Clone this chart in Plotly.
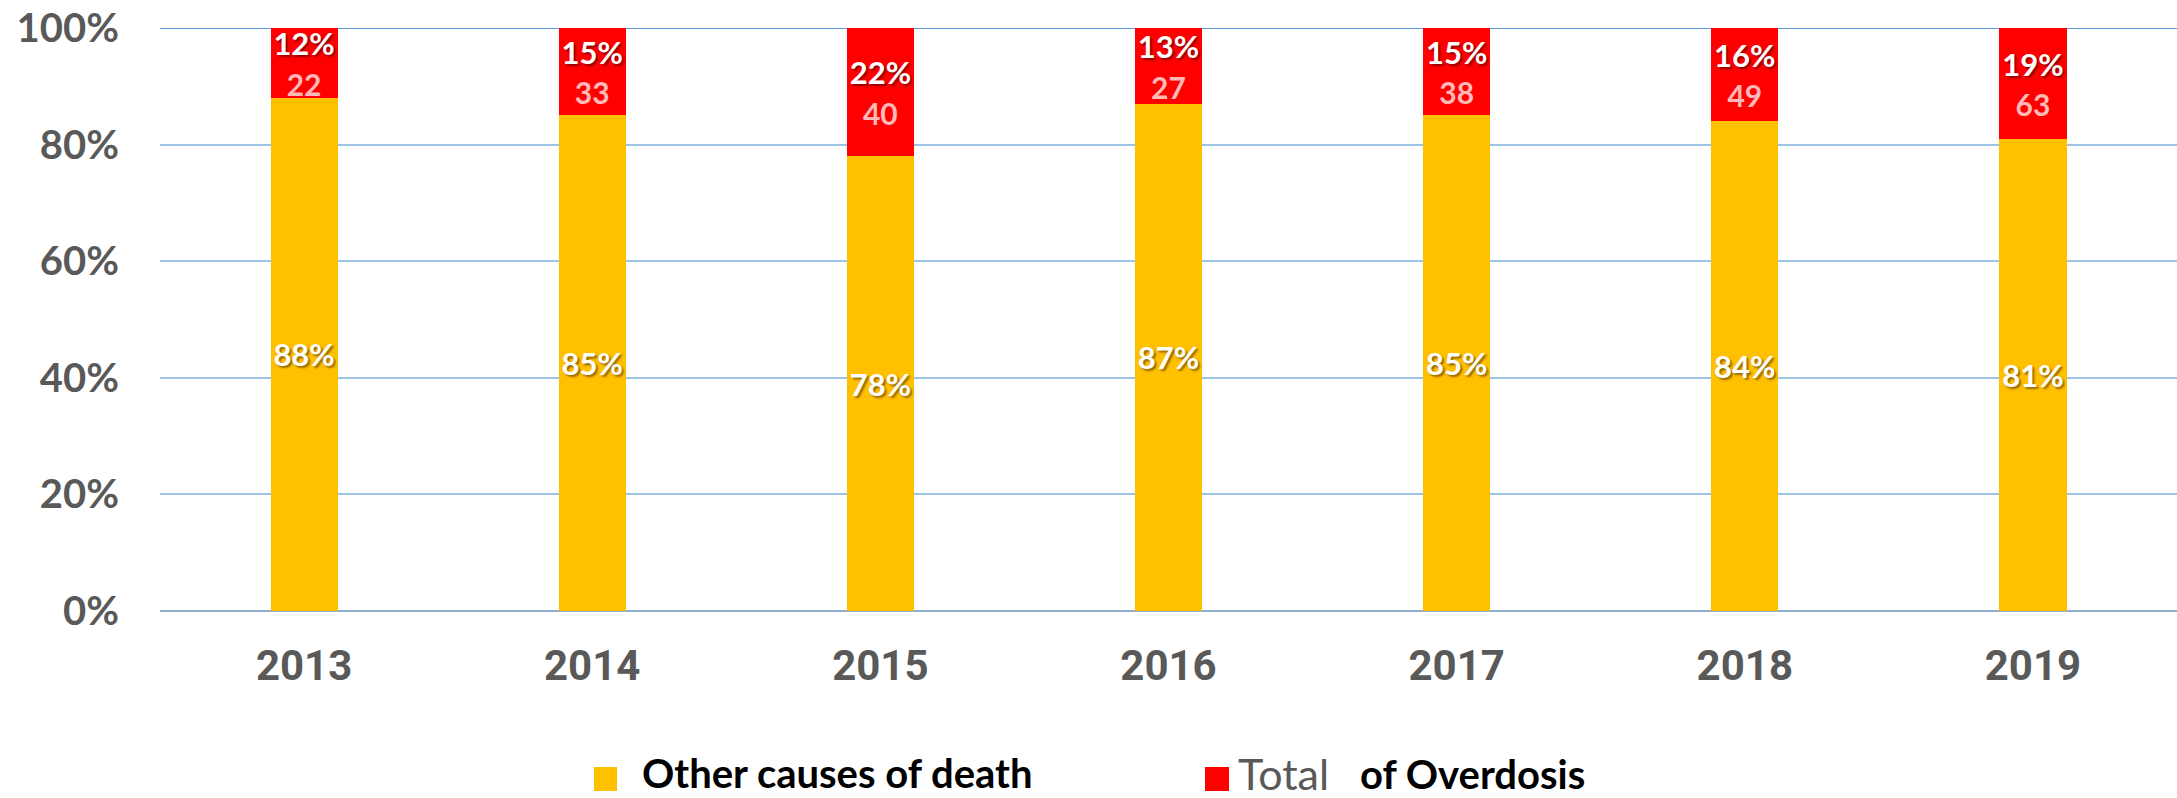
import plotly.graph_objects as go

years = ["2013", "2014", "2015", "2016", "2017", "2018", "2019"]
other_pct = [88, 85, 78, 87, 85, 84, 81]
overdose_pct = [12, 15, 22, 13, 15, 16, 19]
overdose_count = [22, 33, 40, 27, 38, 49, 63]
y_ticks = [0, 20, 40, 60, 80, 100]
y_ticktext = ["0%", "20%", "40%", "60%", "80%", "100%"]
legend_other = "Other causes of death"
legend_od_a = "Total"
legend_od_b = "of Overdosis"

YELLOW = "#FFC000"
RED = "#FF0000"
GRAY = "#595959"
GOTHIC = "Century Gothic, Lato, sans-serif"

# layout geometry (pixels)
W, H = 2177, 798
ML, MR, MT, MB = 160, 0, 28, 187
PW, PH = W - ML - MR, H - MT - MB


def px_x(px):
    return (px - ML) / PW


def px_y(py):
    return (H - MB - py) / PH


other_text = [f"<b>{v}%</b>" for v in other_pct]
od_text = [f"<b>{p}%</b><br><span style='color:#FFB9B9;text-shadow:none;font-size:30px'><b>{c}</b></span>"
           for p, c in zip(overdose_pct, overdose_count)]

fig = go.Figure()
fig.add_trace(go.Bar(
    x=years, y=other_pct, name=legend_other,
    marker=dict(color=YELLOW, line=dict(width=0)),
    text=other_text, textposition="inside", insidetextanchor="middle",
    constraintext="none", textangle=0,
    textfont=dict(family=GOTHIC, size=31, color="white", shadow="2px 2px 2px rgba(110,70,0,0.7)"),
    hoverinfo="skip", showlegend=False,
))
fig.add_trace(go.Bar(
    x=years, y=overdose_pct, name=f"{legend_od_a} {legend_od_b}",
    marker=dict(color=RED, line=dict(width=0)),
    text=od_text, textposition="inside", insidetextanchor="middle",
    constraintext="none", textangle=0,
    textfont=dict(family=GOTHIC, size=31, color="white", shadow="2px 2px 2px rgba(120,0,0,0.8)"),
    hoverinfo="skip", showlegend=False,
))

# legend drawn as shapes + annotations
shapes = [
    dict(type="line", xref="paper", yref="y", x0=0, x1=1, y0=100, y1=100,
         line=dict(color="#5B9BD5", width=2), layer="below"),
    dict(type="rect", xref="paper", yref="paper", x0=px_x(594), x1=px_x(617),
         y0=px_y(791), y1=px_y(767), fillcolor=YELLOW, line=dict(width=0)),
    dict(type="rect", xref="paper", yref="paper", x0=px_x(1205), x1=px_x(1229),
         y0=px_y(791), y1=px_y(767), fillcolor=RED, line=dict(width=0)),
]
annotations = [
    dict(xref="paper", yref="paper", x=px_x(640), y=px_y(773), xanchor="left", yanchor="middle",
         text=f"<b>{legend_other}</b>", showarrow=False,
         font=dict(family=GOTHIC, size=40, color="black")),
    dict(xref="paper", yref="paper", x=px_x(1236), y=px_y(773), xanchor="left", yanchor="middle",
         text=legend_od_a, showarrow=False,
         font=dict(family="Lato, sans-serif", size=43, color=GRAY)),
    dict(xref="paper", yref="paper", x=px_x(1358), y=px_y(774), xanchor="left", yanchor="middle",
         text=f"<b>{legend_od_b}</b>", showarrow=False,
         font=dict(family=GOTHIC, size=40, color="black")),
]

fig.update_layout(
    width=W, height=H,
    margin=dict(l=ML, r=MR, t=MT, b=MB, autoexpand=False),
    barmode="stack", bargap=0.767,
    plot_bgcolor="white", paper_bgcolor="white",
    showlegend=False,
    xaxis=dict(
        showgrid=False, showline=False, zeroline=False, automargin=False,
        tickfont=dict(family="Roboto, sans-serif", size=42, color=GRAY, weight="bold"),
        ticklabelstandoff=26,
    ),
    yaxis=dict(
        range=[0, 100], tickvals=y_ticks, ticktext=y_ticktext, automargin=False,
        showgrid=True, gridcolor="#9DC3E6", gridwidth=2,
        zeroline=True, zerolinecolor="#8FAECB", zerolinewidth=2,
        showline=False,
        tickfont=dict(family=GOTHIC, size=40, color=GRAY, weight="bold"),
        ticklabelstandoff=40,
    ),
    shapes=shapes,
    annotations=annotations,
)

fig.write_html(
    "out.html",
    config={"displayModeBar": False},
    post_script="document.body.style.margin='0';document.body.style.overflow='hidden';",
)
